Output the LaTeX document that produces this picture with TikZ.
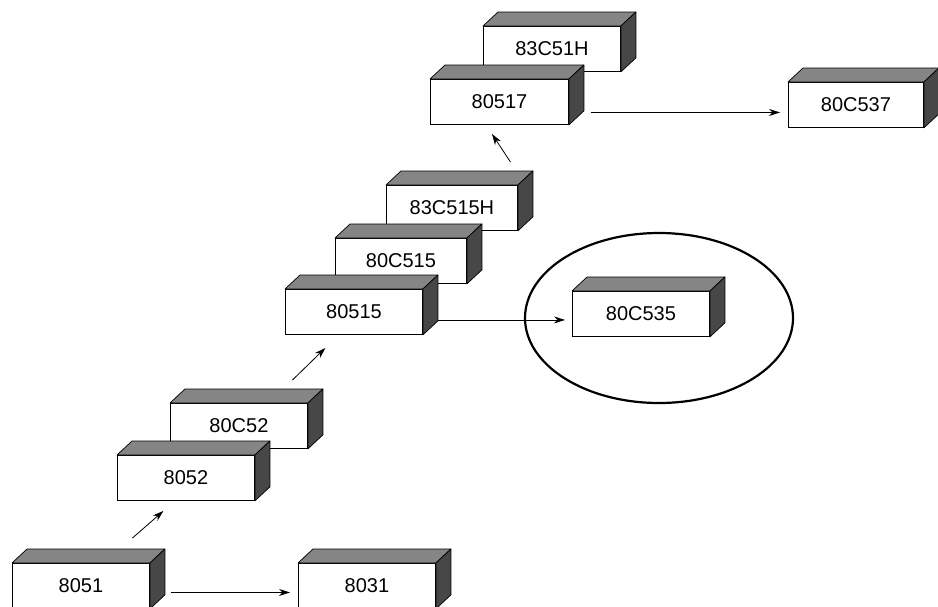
\documentclass[tikz,border=0pt]{standalone}
\usepackage{fontspec}
\setmainfont{Liberation Sans}
\usetikzlibrary{arrows.meta,shapes.geometric}
\tikzset{
  chip/.style={draw=black, fill=white, line width=0.9pt, minimum width=#1, minimum height=45pt,
    inner sep=0pt, anchor=north west, font=\fontsize{20}{24}\selectfont},
  chip/.default=137pt,
  topface/.style={draw=black, fill=black!48, line width=0.7pt, line join=round},
  sideface/.style={draw=black, fill=black!72, line width=0.7pt, line join=round},
  arr/.style={draw=black, line width=0.8pt, -{Stealth[length=11pt,width=7pt,inset=3.5pt]}},
  ring/.style={draw=black, ellipse, line width=2.2pt, minimum width=268pt, minimum height=170pt, inner sep=0pt}
}
\newcommand{\chipbox}[5][137pt]{%
  \node[chip=#1] (#2) at (#3,#4) {#5};
  \filldraw[topface] (#2.north west) -- ([shift={(15pt,14pt)}]#2.north west)
     -- ([shift={(15pt,14pt)}]#2.north east) -- (#2.north east) -- cycle;
  \filldraw[sideface] (#2.north east) -- ([shift={(15pt,14pt)}]#2.north east)
     -- ([shift={(15pt,14pt)}]#2.south east) -- (#2.south east) -- cycle;
}
\begin{document}
\begin{tikzpicture}[x=1pt,y=-1pt]
\useasboundingbox (0,0) rectangle (938,606);
\clip (0,0) rectangle (938,606);
% ellipse around 80C535
\node[ring] (ring) at (659,318) {};
% boxes, back to front
\chipbox{n80C52}{170}{403}{80C52}
\chipbox{n8052}{117}{455}{8052}
\chipbox{n8051}{12}{563}{8051}
\chipbox{n8031}{298}{563}{8031}
\chipbox[131pt]{n83C515H}{386}{185}{83C515H}
\chipbox[131pt]{n80C515}{335}{238}{80C515}
\chipbox{n80515}{285}{289}{80515}
\chipbox{n80C535}{572}{291}{80C535}
\chipbox{n83C51H}{483}{26}{83C51H}
\chipbox[138pt]{n80517}{430}{79}{80517}
\chipbox[135pt]{n80C537}{788}{82}{80C537}
% connectors
\draw[arr] ([xshift=21pt,yshift=-6.5pt]n8051.east) -- ([xshift=-8pt,yshift=-6.5pt]n8031.west);
\draw[arr] ([xshift=51.5pt,yshift=25pt]n8051.north) -- ([xshift=-22.5pt,yshift=-10pt]n8052.south);
\draw[arr] ([xshift=53.5pt,yshift=23pt]n80C52.north) -- ([xshift=-28.5pt,yshift=-13pt]n80515.south);
\draw[arr] ([xshift=15pt,yshift=-8pt]n80515.east) -- ([xshift=-7pt,yshift=-6pt]n80C535.west);
\draw[arr] ([xshift=58.5pt,yshift=23pt]n83C515H.north) -- ([xshift=-7.5pt,yshift=-9pt]n80517.south);
\draw[arr] ([xshift=22pt,yshift=-10.5pt]n80517.east) -- ([xshift=-8pt,yshift=-7.5pt]n80C537.west);
\end{tikzpicture}
\end{document}
